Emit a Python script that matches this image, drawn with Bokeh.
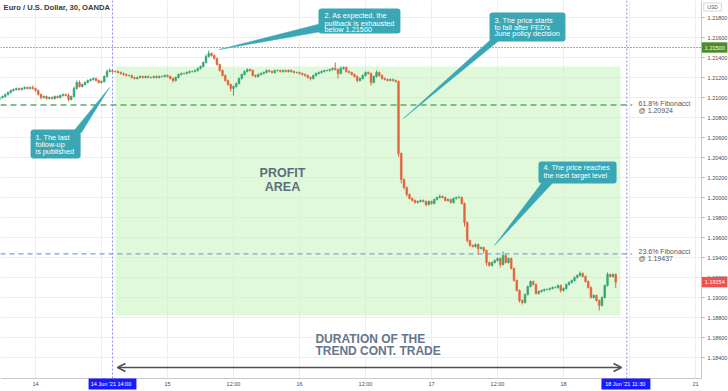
from bokeh.plotting import figure
from bokeh.models import (Range1d, FixedTicker, BoxAnnotation, Arrow, OpenHead,
                          NumeralTickFormatter)
from bokeh.core.properties import value
from bokeh.embed import file_html
from bokeh.resources import INLINE

# ---------------- data (30-minute EUR/USD candles, index 13 = 14 Jun 00:00) -----------
title_text = "Euro / U.S. Dollar, 30, OANDA"
first_open = 1.2098
close = [
    1.2100, 1.2101, 1.2103, 1.2105, 1.2107, 1.2108, 1.2109, 1.2108, 1.2109, 1.2110,
    1.2109, 1.2110, 1.2109, 1.2107, 1.2103, 1.2100, 1.2101, 1.2099, 1.2100, 1.2099,
    1.2101, 1.2100, 1.2102, 1.2103, 1.2102, 1.2098, 1.2101, 1.2109, 1.2115, 1.2111,
    1.2113, 1.2115, 1.2117, 1.2118, 1.2119, 1.2117, 1.2115, 1.2116, 1.2121, 1.2126,
    1.2127, 1.2126, 1.2126, 1.2125, 1.2124, 1.2123, 1.2122, 1.2122, 1.2120, 1.2119,
    1.2120, 1.2121, 1.2120, 1.2121, 1.2120, 1.2120, 1.2121, 1.2120, 1.2121, 1.2121,
    1.2122, 1.2121, 1.2119, 1.2117, 1.2120, 1.2123, 1.2124, 1.2124, 1.2125, 1.2126,
    1.2126, 1.2127, 1.2129, 1.2131, 1.2135, 1.2141, 1.2144, 1.2142, 1.2139, 1.2133,
    1.2127, 1.2122, 1.2117, 1.2113, 1.2109, 1.2111, 1.2114, 1.2119, 1.2123, 1.2126,
    1.2128, 1.2127, 1.2122, 1.2121, 1.2123, 1.2124, 1.2125, 1.2127, 1.2126, 1.2125,
    1.2127, 1.2127, 1.2126, 1.2127, 1.2126, 1.2127, 1.2126, 1.2125, 1.2125, 1.2124,
    1.2123, 1.2122, 1.2120, 1.2119, 1.2122, 1.2124, 1.2125, 1.2126, 1.2127, 1.2127,
    1.2128, 1.2129, 1.2128, 1.2124, 1.2129, 1.2130, 1.2126, 1.2125, 1.2123, 1.2121,
    1.2117, 1.2119, 1.2122, 1.2125, 1.2124, 1.2115, 1.2121, 1.2125, 1.2122, 1.2119,
    1.2118, 1.2117, 1.2118, 1.2117, 1.2116, 1.2044, 1.2018, 1.2010, 1.2003, 1.1999,
    1.1997, 1.1995, 1.1996, 1.1997, 1.1996, 1.1993, 1.1996, 1.1994, 1.1998, 1.2000,
    1.2001, 1.2000, 1.1997, 1.1998, 1.1995, 1.1999, 1.2000, 1.2000, 1.1994, 1.1975,
    1.1957, 1.1952, 1.1951, 1.1953, 1.1949, 1.1950, 1.1947, 1.1935, 1.1932, 1.1935,
    1.1937, 1.1939, 1.1933, 1.1942, 1.1935, 1.1939, 1.1929, 1.1917, 1.1907, 1.1897,
    1.1895, 1.1903, 1.1911, 1.1916, 1.1913, 1.1904, 1.1906, 1.1907, 1.1908, 1.1908,
    1.1909, 1.1910, 1.1910, 1.1912, 1.1907, 1.1909, 1.1913, 1.1915, 1.1917, 1.1920,
    1.1922, 1.1924, 1.1921, 1.1916, 1.1910, 1.1900, 1.1902, 1.1897, 1.1892, 1.1900,
    1.1912, 1.1923, 1.1921, 1.1923, 1.19154,
]
# wick lengths above / below the body, in pips
upper_pips = [
    1, 1, 1, 1, 1, 1, 1, 1, 1, 1,
    1, 1, 2, 1, 1, 1, 1, 1, 1, 1,
    1, 1, 1, 1, 1, 2, 1, 2, 2, 2,
    1, 1, 1, 1, 1, 1, 1, 1, 1, 2,
    2, 1, 1, 1, 1, 1, 1, 1, 1, 1,
    1, 1, 1, 1, 1, 1, 1, 1, 1, 1,
    1, 1, 1, 1, 1, 1, 1, 1, 1, 1,
    1, 1, 1, 1, 1, 2, 3, 1, 1, 1,
    1, 1, 1, 1, 1, 1, 1, 1, 1, 1,
    1, 1, 1, 1, 1, 1, 1, 1, 1, 1,
    1, 1, 1, 1, 1, 1, 1, 1, 1, 1,
    1, 1, 1, 1, 1, 1, 1, 1, 1, 1,
    1, 1, 6, 1, 2, 1, 1, 1, 1, 1,
    1, 1, 1, 1, 1, 1, 1, 2, 1, 1,
    1, 1, 1, 1, 1, 1, 1, 1, 1, 1,
    1, 1, 1, 1, 1, 1, 1, 1, 1, 1,
    2, 1, 1, 1, 1, 1, 1, 2, 1, 1,
    1, 1, 1, 1, 1, 1, 1, 1, 1, 1,
    1, 1, 1, 4, 1, 1, 1, 1, 1, 1,
    1, 1, 1, 1, 1, 1, 1, 1, 1, 1,
    1, 1, 1, 1, 1, 1, 1, 1, 1, 1,
    1, 2, 1, 1, 1, 1, 1, 1, 1, 1,
    1, 2, 1, 1, 1,
]
lower_pips = [
    1, 1, 1, 1, 1, 1, 1, 1, 1, 1,
    1, 1, 1, 1, 1, 2, 1, 1, 1, 1,
    1, 1, 1, 1, 1, 2, 1, 1, 1, 1,
    1, 1, 1, 1, 1, 1, 1, 1, 1, 1,
    1, 1, 1, 1, 1, 1, 1, 1, 1, 1,
    1, 1, 1, 1, 1, 1, 1, 1, 1, 1,
    1, 1, 1, 2, 1, 1, 1, 1, 1, 1,
    1, 1, 1, 1, 1, 1, 1, 1, 1, 1,
    1, 1, 1, 1, 3, 7, 1, 1, 1, 1,
    1, 1, 1, 1, 1, 1, 1, 1, 1, 1,
    1, 1, 1, 1, 1, 1, 1, 1, 1, 1,
    1, 1, 1, 2, 1, 1, 1, 1, 1, 1,
    1, 1, 1, 5, 1, 1, 1, 1, 1, 1,
    2, 1, 1, 1, 1, 3, 1, 1, 1, 1,
    1, 1, 1, 1, 1, 3, 4, 2, 2, 1,
    1, 1, 1, 1, 1, 2, 1, 1, 1, 1,
    1, 1, 1, 1, 1, 1, 1, 1, 1, 4,
    2, 1, 1, 1, 6, 1, 3, 3, 1, 1,
    1, 1, 3, 1, 1, 1, 1, 1, 1, 2,
    2, 1, 1, 1, 1, 1, 1, 1, 1, 1,
    1, 1, 1, 1, 2, 1, 1, 1, 1, 1,
    1, 1, 1, 1, 1, 1, 1, 1, 5, 1,
    1, 1, 1, 1, 6,
]
n = min(len(close), len(upper_pips), len(lower_pips))
close = close[:n]
upper_pips = upper_pips[:n]
lower_pips = lower_pips[:n]

time_ticks = [13, 61, 85, 109, 133, 157, 181, 205, 253]
time_labels = ["14", "15", "12:00", "16", "12:00", "17", "12:00", "18", "21"]
hidden_grid_ticks = [37, 229]
price_ticks = [1.184, 1.186, 1.188, 1.190, 1.192, 1.194, 1.196, 1.198, 1.200,
               1.202, 1.204, 1.206, 1.208, 1.210, 1.212, 1.214, 1.216, 1.218]

fib_618 = 1.20924
fib_236 = 1.19437
resistance = 1.21500
last_price = 1.19154
trade_start_idx = 41     # 14 Jun '21 14:00
trade_end_idx = 228      # 18 Jun '21 11:30
start_label = "14 Jun '21   14:00"
end_label = "18 Jun '21   11:30"
profit_top = 1.2131
profit_bottom = 1.1882

# ---------------- derived candle geometry ----------------
idx = list(range(n))
opens = [first_open] + close[:-1]
tops = [max(o, c) for o, c in zip(opens, close)]
bottoms = [min(o, c) for o, c in zip(opens, close)]
highs = [t + u * 1e-4 for t, u in zip(tops, upper_pips)]
lows = [b - l * 1e-4 for b, l in zip(bottoms, lower_pips)]
UP, DOWN = "#35a574", "#e2643d"
colors = [UP if c >= o else DOWN for o, c in zip(opens, close)]

# frame covers the whole canvas; axes are pinned inside it
X0, X1 = 0.27, 265.0
Y0, Y1 = 1.1806, 1.2197
AX_X = 255.2      # price axis position
AX_Y = 1.1819     # time axis position

p = figure(width=728, height=391, x_range=Range1d(X0, X1), y_range=Range1d(Y0, Y1),
           y_axis_location="right", output_backend="svg", toolbar_location=None,
           min_border_left=0, min_border_top=0, min_border_right=0, min_border_bottom=0)
p.outline_line_color = None
p.background_fill_color = "white"
p.border_fill_color = "white"

# grids
p.xgrid.ticker = FixedTicker(ticks=time_ticks + hidden_grid_ticks)
p.xgrid.grid_line_color = "#eceef3"
p.ygrid.grid_line_color = "#eceef3"

# axes
ya = p.yaxis[0]
ya.fixed_location = AX_X
ya.bounds = (AX_Y, Y1)
ya.ticker = FixedTicker(ticks=price_ticks)
ya.formatter = NumeralTickFormatter(format="0.00000")
ya.major_label_text_font = "Liberation Sans"
ya.major_label_text_font_size = "5.5px"
ya.major_label_text_color = "#4a4a4a"
ya.major_tick_out = 3
ya.major_tick_in = 0
ya.major_tick_line_color = "#b8b8b8"
ya.minor_tick_line_color = None
ya.axis_line_color = "#c8c8c8"
ya.major_label_standoff = 3

xa = p.xaxis[0]
xa.fixed_location = AX_Y
xa.bounds = (X0, AX_X)
xa.ticker = FixedTicker(ticks=time_ticks)
xa.major_label_overrides = {t: l for t, l in zip(time_ticks, time_labels)}
xa.major_label_text_font = "Liberation Sans"
xa.major_label_text_font_size = "5.5px"
xa.major_label_text_color = "#4a4a4a"
xa.major_tick_out = 0
xa.major_tick_in = 0
xa.minor_tick_line_color = None
xa.axis_line_color = "#c8c8c8"
xa.major_label_standoff = 2

# profit area
p.add_layout(BoxAnnotation(left=42.1, right=225.7, top=profit_top, bottom=profit_bottom,
                           fill_color="#c2f4b6", fill_alpha=0.5, line_color=None,
                           level="underlay"))

# white margins where the axes live (hide grid lines there)
p.quad(left=[AX_X, X0], right=[X1, AX_X], top=[Y1, AX_Y], bottom=[Y0, Y0],
       fill_color="white", line_color=None)

# level lines
p.segment(x0=[X0], x1=[AX_X], y0=[resistance], y1=[resistance], line_color="#555555",
          line_dash="1 2", line_width=1)
p.segment(x0=[trade_start_idx, trade_end_idx], x1=[trade_start_idx, trade_end_idx],
          y0=[AX_Y, AX_Y], y1=[Y1, Y1], line_color="#8d90ee", line_dash="2 2", line_width=1)
p.segment(x0=[X0], x1=[230], y0=[fib_618], y1=[fib_618], line_color="#5aab6c",
          line_dash="6 4", line_width=1.5)
p.segment(x0=[X0], x1=[230], y0=[fib_236], y1=[fib_236], line_color="#7d9fd8",
          line_dash="5 4", line_width=1.2)

# candles
p.segment(x0=idx, x1=idx, y0=lows, y1=highs, line_color=colors, line_width=1)
p.vbar(x=idx, width=0.62, top=tops, bottom=bottoms, fill_color=colors,
       line_color=colors, line_width=0.6)

# callouts
TEAL = "#3ba7b5"
callouts = [
    dict(box=(11.2, 29.4, 1.2068, 1.2039),
         tail=([26.5, 29.7, 39.9], [1.2065, 1.2065, 1.2110]),
         x=13.0, ys=[1.20603, 1.20535, 1.20463],
         lines=["1. The last", "follow-up", "is published"]),
    dict(box=(115.9, 145.7, 1.2189, 1.2164),
         tail=([117.0, 117.0, 79.9], [1.2174, 1.2166, 1.2148]),
         x=118.1, ys=[1.2182, 1.21743, 1.21677],
         lines=["2. As expected, the", "pullback is exhausted", "below 1.21500"]),
    dict(box=(178.1, 205.7, 1.2185, 1.2156),
         tail=([178.6, 182.0, 146.8], [1.2158, 1.2158, 1.2079]),
         x=179.9, ys=[1.2177, 1.21703, 1.21637],
         lines=["3. The price starts", "to fall after FED's", "June policy decision"]),
    dict(box=(195.9, 224.3, 1.2036, 1.2014),
         tail=([197.5, 201.5, 179.9], [1.2016, 1.2016, 1.1952]),
         x=197.7, ys=[1.20303, 1.2022],
         lines=["4. The price reaches", "the next target level"]),
]
for c in callouts:
    l, r, t, b = c["box"]
    p.patch(x=c["tail"][0], y=c["tail"][1], fill_color=TEAL, line_color=TEAL, line_width=0.5)
    p.add_layout(BoxAnnotation(left=l, right=r, top=t, bottom=b, fill_color=TEAL,
                               fill_alpha=1.0, line_color=None, border_radius=3))
    p.text(x=[c["x"]] * len(c["lines"]), y=c["ys"], text=c["lines"], text_color="white",
           text_font=value("Liberation Sans"), text_font_size="7.3px",
           text_baseline="middle", text_align="left", level="overlay")

# big texts
p.text(x=[102.8, 102.8], y=[1.20243, 1.20103], text=["PROFIT", "AREA"],
       text_color="#5e6d7c", text_font=value("Liberation Sans"), text_font_style="bold",
       text_font_size="12.5px", text_align="center", text_baseline="middle")
p.text(x=[114.8, 114.8], y=[1.1859, 1.18463], text=["DURATION OF THE", "TREND CONT. TRADE"],
       text_color="#66768a", text_font=value("Liberation Sans"), text_font_style="bold",
       text_font_size="12px", text_align="left", text_baseline="middle")

# fibonacci labels
p.text(x=[232.3, 232.3, 232.3, 232.3], y=[1.2094, 1.2087, 1.1946, 1.1939],
       text=["61.8% Fibonacci", "@ 1.20924", "23.6% Fibonacci", "@ 1.19437"],
       text_color="#555555", text_font=value("Liberation Sans"), text_font_size="7px",
       text_align="left", text_baseline="middle")

# title
p.text(x=[1.4], y=[1.2190], text=[title_text], text_color="#3a3a3a",
       text_font=value("Liberation Sans"), text_font_size="7.6px", text_font_style="bold",
       text_align="left", text_baseline="middle")

# duration arrow
p.add_layout(Arrow(x_start=42.8, y_start=1.1830, x_end=226.1, y_end=1.1830,
                   start=OpenHead(size=8, line_color="#505050", line_width=1.5),
                   end=OpenHead(size=8, line_color="#505050", line_width=1.5),
                   line_color="#505050", line_width=1.5))

# price axis highlight labels
hl_prices = [resistance, last_price]
hl_texts = ["1.21500", "1.19154"]
hl_colors = ["#4d8c2c", "#ef5350"]
p.quad(left=[255.3, 255.3], right=[264.6, 264.6],
       top=[v + 0.00052 for v in hl_prices], bottom=[v - 0.00052 for v in hl_prices],
       fill_color=hl_colors, line_color=None, level="overlay")
p.text(x=[260.0, 260.0], y=hl_prices, text=hl_texts, text_color="white",
       text_font=value("Liberation Sans"), text_font_size="5.5px",
       text_align="center", text_baseline="middle", level="overlay")
# currency tag
p.quad(left=[256.0], right=[262.4], top=[1.21945], bottom=[1.21865],
       fill_color="white", line_color="#cccccc", line_width=0.8, level="overlay")
p.text(x=[259.2], y=[1.21905], text=["USD"], text_color="#555555",
       text_font=value("Liberation Sans"), text_font_size="5px",
       text_align="center", text_baseline="middle", level="overlay")

# time axis highlight labels
p.quad(left=[32.3, 218.8], right=[49.7, 236.6], top=[AX_Y, AX_Y], bottom=[1.1808, 1.1808],
       fill_color="#1a1aff", line_color=None, level="overlay")
p.text(x=[trade_start_idx, trade_end_idx], y=[1.18135, 1.18135], text=[start_label, end_label],
       text_color="white", text_font=value("Liberation Sans"), text_font_size="5.5px",
       text_align="center", text_baseline="middle", level="overlay")

open("out.html", "w").write(file_html(p, INLINE))
